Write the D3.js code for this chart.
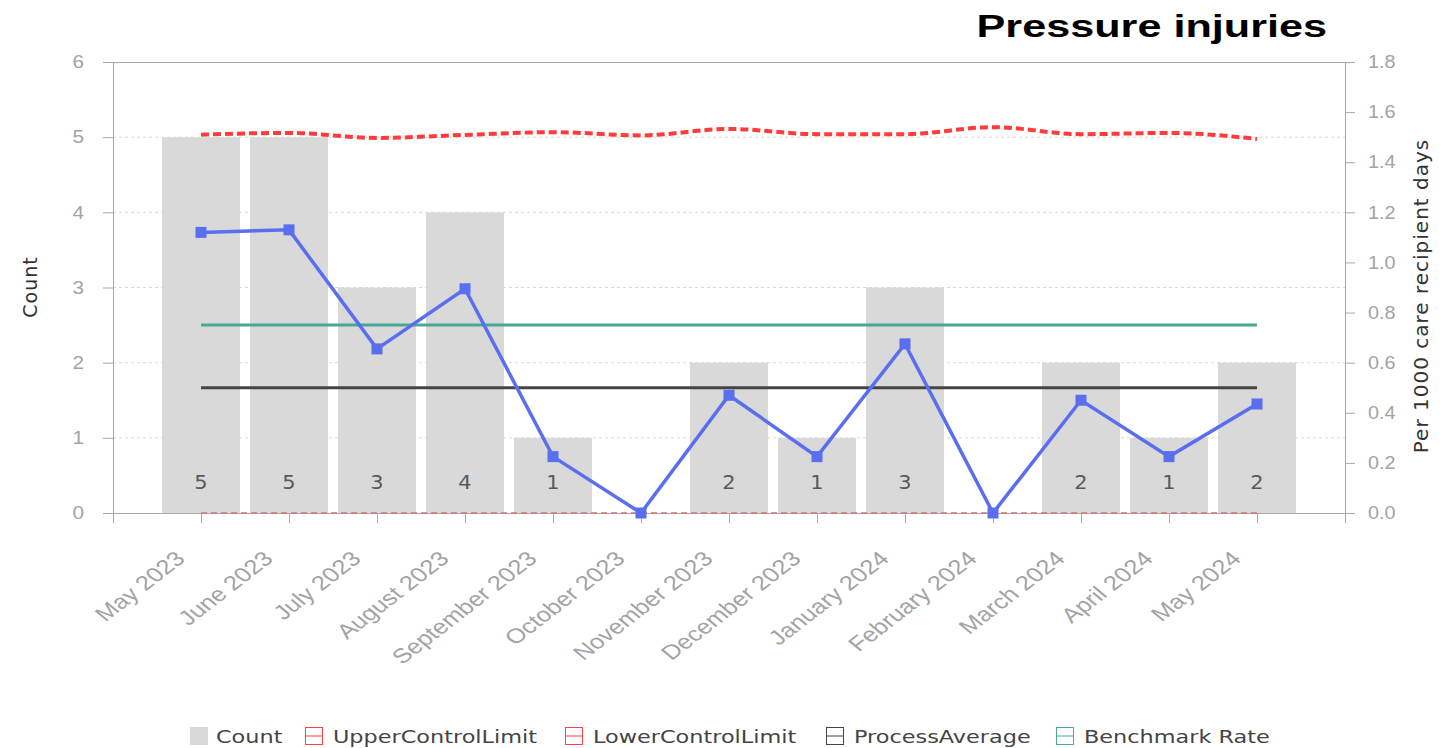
<!DOCTYPE html>
<html lang="en">
<head>
<meta charset="UTF-8" />
<script src="https://d3js.org/d3.v7.min.js"></script>
<style>
  body { margin: 0; background: #fff; }
  svg { font-family: "DejaVu Sans", sans-serif; }
  .tick text { fill: #a3a3a3; font-size: 18px; }
</style>
</head>
<body>
<script>
  const months = ['May 2023', 'June 2023', 'July 2023', 'August 2023', 'September 2023', 'October 2023',
    'November 2023', 'December 2023', 'January 2024', 'February 2024', 'March 2024', 'April 2024', 'May 2024']
  const counts = [5, 5, 3, 4, 1, 0, 2, 1, 3, 0, 2, 1, 2]
  const rates = [1.12, 1.13, 0.655, 0.895, 0.225, 0, 0.47, 0.225, 0.675, 0, 0.45, 0.225, 0.435]
  const upperLimit = [1.51, 1.517, 1.497, 1.509, 1.52, 1.507, 1.533, 1.512, 1.512, 1.54, 1.512, 1.517, 1.493]
  const lowerLimit = [0, 0, 0, 0, 0, 0, 0, 0, 0, 0, 0, 0, 0]
  const processAverage = [0.5, 0.5, 0.5, 0.5, 0.5, 0.5, 0.5, 0.5, 0.5, 0.5, 0.5, 0.5, 0.5]
  const benchmark = [0.75, 0.75, 0.75, 0.75, 0.75, 0.75, 0.75, 0.75, 0.75, 0.75, 0.75, 0.75, 0.75]
  const countTicks = [0, 1, 2, 3, 4, 5, 6]
  const rateTicks = [0, 0.2, 0.4, 0.6, 0.8, 1.0, 1.2, 1.4, 1.6, 1.8]

  const width = 1453, height = 748
  const mLeft = 113, mRight = 1345, mTop = 62, mBottom = 513
  const stretch = 1.25 // the source picture is wider than tall

  const svg = d3.select('body').append('svg').attr('width', width).attr('height', height)

  const x = d3.scalePoint().domain(months).range([mLeft, mRight]).padding(1)
  const yCount = d3.scaleLinear().domain([0, 6]).range([mBottom, mTop])
  const yRate = d3.scaleLinear().domain([0, 1.8]).range([mBottom, mTop])

  // gridlines
  svg.append('g')
    .selectAll('line')
    .data(countTicks.slice(1, -1))
    .enter()
    .append('line')
    .attr('x1', mLeft).attr('x2', mRight)
    .attr('y1', (d) => yCount(d)).attr('y2', (d) => yCount(d))
    .style('stroke', '#d8d8d8')
    .style('stroke-dasharray', '3 3')
  svg.append('line')
    .attr('x1', mLeft).attr('x2', mRight).attr('y1', mTop + 0.5).attr('y2', mTop + 0.5)
    .style('stroke', '#a8a8a8')

  // bars
  const barData = counts.map((c, i) => ({ month: months[i], count: c }))
  const barW = 78
  svg.append('g')
    .selectAll('rect')
    .data(barData)
    .enter()
    .append('rect')
    .attr('x', (d) => x(d.month) - barW / 2)
    .attr('y', (d) => yCount(d.count))
    .attr('width', barW)
    .attr('height', (d) => mBottom - yCount(d.count))
    .attr('fill', '#d9d9d9')
  svg.append('g')
    .selectAll('text')
    .data(barData.filter((d) => d.count > 0))
    .enter()
    .append('text')
    .attr('transform', (d) => `translate(${x(d.month)},489) scale(1.1,1)`)
    .attr('text-anchor', 'middle')
    .style('font-size', '19px')
    .style('fill', '#5a5a5a')
    .text((d) => d.count)

  // axes
  const xAxis = svg.append('g')
    .attr('transform', `translate(0,${mBottom})`)
    .call(d3.axisBottom(x).tickSize(10).tickSizeOuter(0))
  xAxis.select('.domain').attr('d', `M${mLeft - 10},0.5H${mRight}`).style('stroke', '#a8a8a8')
  xAxis.selectAll('.tick line').style('stroke', '#a8a8a8')
  xAxis.selectAll('.tick text')
    .attr('text-anchor', 'end')
    .attr('x', 0).attr('y', 0).attr('dy', 0)
    .style('font-size', '20.5px')
    .attr('transform', `translate(-15,47) scale(${stretch},1) rotate(-44)`)

  const yLeft = svg.append('g')
    .attr('transform', `translate(${mLeft},0)`)
    .call(d3.axisLeft(yCount).tickValues(countTicks).tickSize(10).tickFormat(d3.format('d')))
  yLeft.select('.domain').attr('d', `M0.5,${mTop}V${mBottom + 10}`).style('stroke', '#a8a8a8')
  yLeft.selectAll('.tick line').style('stroke', '#a8a8a8')
  yLeft.selectAll('.tick text').attr('x', 0).attr('transform', 'translate(-29,0) scale(1.15,1)')

  const yRight = svg.append('g')
    .attr('transform', `translate(${mRight},0)`)
    .call(d3.axisRight(yRate).tickValues(rateTicks).tickSize(10).tickFormat(d3.format('.1f')))
  yRight.select('.domain').attr('d', `M0.5,${mTop}V${mBottom + 10}`).style('stroke', '#a8a8a8')
  yRight.selectAll('.tick line').style('stroke', '#a8a8a8')
  yRight.selectAll('.tick text').attr('x', 0).attr('transform', 'translate(23,0) scale(1.1,1)')

  // reference lines
  const line = d3.line().x((d, i) => x(months[i])).y((d) => yRate(d))
  svg.append('path').datum(lowerLimit).attr('d', line)
    .attr('fill', 'none').style('stroke', '#d87070').style('stroke-width', 1.3).style('stroke-dasharray', '6 4')
  svg.append('path').datum(processAverage).attr('d', line)
    .attr('fill', 'none').style('stroke', '#444').style('stroke-width', 3)
  svg.append('path').datum(benchmark).attr('d', line)
    .attr('fill', 'none').style('stroke', '#4aa898').style('stroke-width', 3)
  svg.append('path').datum(upperLimit).attr('d', d3.line().curve(d3.curveMonotoneX).x((d, i) => x(months[i])).y((d) => yRate(d)))
    .attr('fill', 'none').style('stroke', '#ff3b3b').style('stroke-width', 4).style('stroke-dasharray', '8 4')

  // rate series
  svg.append('path').datum(rates).attr('d', line)
    .attr('fill', 'none').style('stroke', '#5a6ef0').style('stroke-width', 3.5)
  svg.append('g')
    .selectAll('rect')
    .data(rates)
    .enter()
    .append('rect')
    .attr('x', (d, i) => x(months[i]) - 5.5)
    .attr('y', (d) => yRate(d) - 5.5)
    .attr('width', 11).attr('height', 11)
    .attr('fill', '#5a6ef0')

  // axis titles
  svg.append('text')
    .attr('transform', 'translate(37,287) rotate(-90)')
    .attr('text-anchor', 'middle')
    .style('font-size', '19px').style('letter-spacing', '1px').style('fill', '#333')
    .text('Count')
  svg.append('text')
    .attr('transform', 'translate(1428,296) rotate(-90)')
    .attr('text-anchor', 'middle')
    .style('font-size', '20px').style('letter-spacing', '1px').style('fill', '#333')
    .text('Per 1000 care recipient days')

  svg.append('text')
    .attr('transform', 'translate(1327,37) scale(1.35,1)')
    .attr('text-anchor', 'end')
    .style('font-family', 'Liberation Sans, Arial, sans-serif')
    .style('font-weight', 'bold').style('font-size', '32px').style('fill', '#000')
    .text('Pressure injuries')

  // legend
  const legend = [
    { name: 'Count', color: '#d9d9d9', type: 'bar', x: 190 },
    { name: 'UpperControlLimit', color: '#ff4040', type: 'line', x: 305 },
    { name: 'LowerControlLimit', color: '#ff4040', type: 'line', x: 565 },
    { name: 'ProcessAverage', color: '#444', type: 'line', x: 826 },
    { name: 'Benchmark Rate', color: '#4aa898', type: 'line', x: 1056 },
  ]
  const lg = svg.append('g').selectAll('g').data(legend).enter().append('g')
    .attr('transform', (d) => `translate(${d.x},727)`)
  lg.filter((d) => d.type === 'bar').append('rect')
    .attr('width', 18).attr('height', 18).attr('fill', (d) => d.color)
  lg.filter((d) => d.type === 'line').append('rect')
    .attr('x', 0.5).attr('y', 0.5).attr('width', 17).attr('height', 17)
    .attr('fill', '#fff').style('stroke', (d) => d.color)
  lg.filter((d) => d.type === 'line').append('line')
    .attr('x1', 0).attr('x2', 18).attr('y1', 9).attr('y2', 9).style('stroke', (d) => d.color)
  lg.append('text')
    .attr('transform', (d) => `translate(${d.type === 'bar' ? 26 : 28},16) scale(1.21,1)`)
    .style('font-size', '18.5px').style('fill', '#444')
    .text((d) => d.name)
</script>
</body>
</html>
